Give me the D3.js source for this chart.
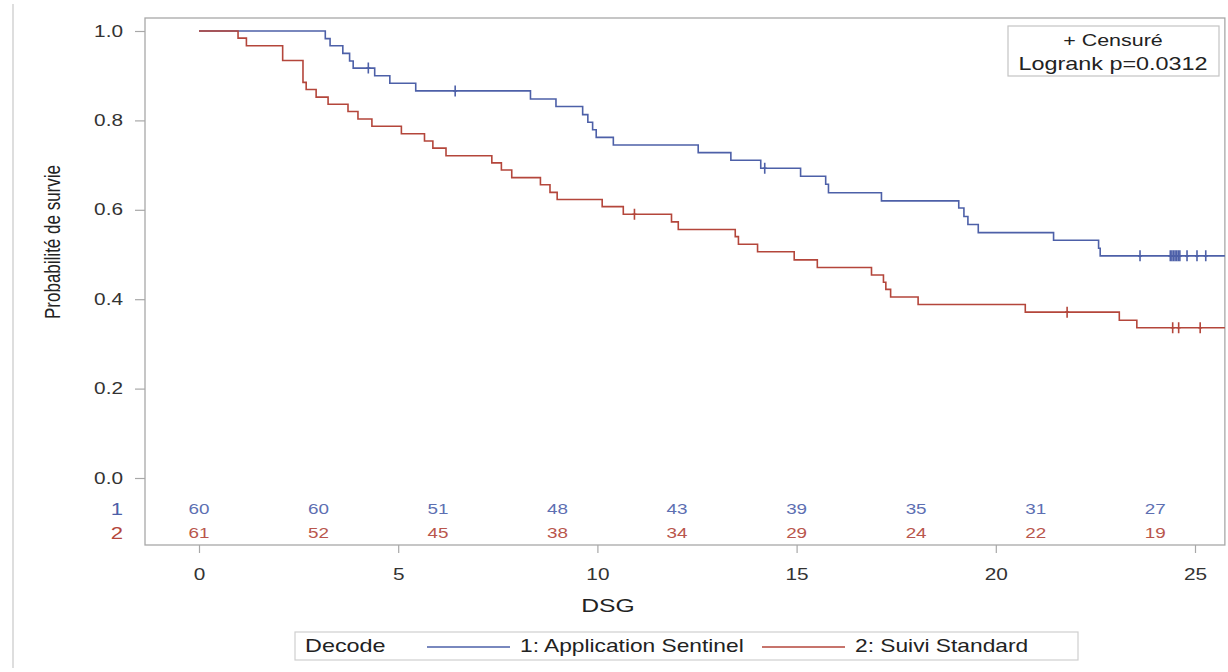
<!DOCTYPE html>
<meta charset="utf-8">
<script src="https://cdn.jsdelivr.net/npm/d3@7"></script>
<style>
	body { margin: 0; background: #fff; }
	svg { display: block; font-family: "Liberation Sans", Arial, sans-serif; }
	.frame { fill: none; stroke: #a8a8a8; stroke-width: 1.3px; }
	.axis line { stroke: #a8a8a8; stroke-width: 1.2px; }
	.axis path { display: none; }
	.axis text { fill: #333; font-size: 16px; }
	.km { fill: none; stroke-width: 1.6px; }
	.censor { fill: none; stroke-width: 1.6px; }
</style>
<body>
	<div id="chart"></div>
</body>
<script>
	const width = 1228, height = 672;
	const stretch = 1.3; // text in the reference is drawn wide

	// Kaplan-Meier steps [time, survival]
	const sentinelSteps = [
		[0, 1], [3.17, 0.983], [3.29, 0.967], [3.61, 0.950], [3.78, 0.933], [3.87, 0.917],
		[4.41, 0.900], [4.79, 0.883], [5.44, 0.866], [8.32, 0.848], [8.96, 0.831],
		[9.63, 0.813], [9.76, 0.796], [9.88, 0.779], [9.97, 0.762], [10.40, 0.745],
		[12.53, 0.728], [13.35, 0.711], [14.10, 0.693], [15.10, 0.675], [15.73, 0.657],
		[15.80, 0.638], [17.13, 0.620], [19.07, 0.604], [19.20, 0.585], [19.30, 0.567],
		[19.56, 0.549], [21.45, 0.532], [22.58, 0.514], [22.62, 0.497]
	];
	const sentinelCensored = [4.25, 6.43, 14.2, 23.62, 24.38, 24.42, 24.46, 24.50, 24.54, 24.58, 24.62,
		24.80, 25.05, 25.27];

	const standardSteps = [
		[0, 1], [0.98, 0.984], [1.19, 0.967], [2.10, 0.934], [2.61, 0.885], [2.69, 0.869],
		[2.94, 0.852], [3.24, 0.836], [3.74, 0.820], [3.99, 0.803], [4.34, 0.787],
		[5.08, 0.770], [5.66, 0.754], [5.87, 0.738], [6.20, 0.721], [7.35, 0.705],
		[7.59, 0.689], [7.85, 0.672], [8.57, 0.656], [8.81, 0.639], [8.99, 0.623],
		[10.12, 0.607], [10.65, 0.590], [11.86, 0.573], [12.03, 0.556], [13.46, 0.540],
		[13.54, 0.523], [14.02, 0.506], [14.94, 0.488], [15.52, 0.471], [16.88, 0.454],
		[17.18, 0.438], [17.24, 0.422], [17.36, 0.405], [18.05, 0.388], [20.74, 0.371],
		[23.10, 0.353], [23.54, 0.336]
	];
	const standardCensored = [10.93, 21.79, 24.44, 24.59, 25.13];

	// number at risk table
	const riskTimes = [0, 3, 6, 9, 12, 15, 18, 21, 24];
	const riskSentinel = [60, 60, 51, 48, 43, 39, 35, 31, 27];
	const riskStandard = [61, 52, 45, 38, 34, 29, 24, 22, 19];

	const xTicks = [0, 5, 10, 15, 20, 25];
	const yTicks = [0, 0.2, 0.4, 0.6, 0.8, 1.0];
	const tEnd = 25.75;

	const groups = [
		{ code: "1", label: "1: Application Sentinel", color: "#4d60a8", text: "#5d6fb2",
		  steps: sentinelSteps, censored: sentinelCensored, risk: riskSentinel },
		{ code: "2", label: "2: Suivi Standard", color: "#b4463b", text: "#b9564c",
		  steps: standardSteps, censored: standardCensored, risk: riskStandard }
	];

	const x = d3.scaleLinear().domain([0, 25]).range([199, 1195]);
	const y = d3.scaleLinear().domain([0, 1]).range([478, 31]);

	const svg = d3.select("#chart").append("svg")
		.attr("width", width)
		.attr("height", height);

	// outer border line on the left
	svg.append("line")
		.attr("x1", 13).attr("x2", 13).attr("y1", 4).attr("y2", 668)
		.attr("stroke", "#c8c8c8").attr("stroke-width", 1.2);

	const x0 = x.invert(145);
	svg.append("rect").attr("class", "frame")
		.attr("x", x(x0)).attr("y", 18)
		.attr("width", x(tEnd) - x(x0)).attr("height", 527);

	// axes
	const yAxis = svg.append("g").attr("class", "axis")
		.attr("transform", "translate(145,0)")
		.call(d3.axisLeft(y).tickValues(yTicks).tickSize(10).tickFormat(d3.format(".1f")));
	yAxis.selectAll("text")
		.attr("x", -22 / stretch)
		.attr("transform", "scale(" + stretch + ",1)");

	const xAxis = svg.append("g").attr("class", "axis")
		.attr("transform", "translate(0,545)")
		.call(d3.axisBottom(x).tickValues(xTicks).tickSize(8).tickPadding(16));
	xAxis.selectAll("text")
		.attr("x", 0)
		.attr("transform", "scale(" + stretch + ",1)");

	svg.append("text")
		.attr("transform", "translate(52,242) scale(" + stretch + ",1) rotate(-90)")
		.attr("text-anchor", "middle")
		.attr("dy", "0.35em")
		.style("font-size", "17px")
		.style("fill", "#222")
		.text("Probabilité de survie");

	svg.append("text")
		.attr("transform", "translate(608,605) scale(" + stretch + ",1)")
		.attr("text-anchor", "middle")
		.attr("dy", "0.35em")
		.style("font-size", "19px")
		.style("fill", "#222")
		.text("DSG");

	// curves
	const line = d3.line()
		.x(function(d) { return x(d[0]); })
		.y(function(d) { return y(d[1]); })
		.curve(d3.curveStepAfter);

	function survAt(steps, t) {
		let s = 1;
		steps.forEach(function(p) { if (p[0] <= t) s = p[1]; });
		return s;
	}

	groups.forEach(function(g) {
		const pts = g.steps.concat([[tEnd, g.steps[g.steps.length - 1][1]]]);
		svg.append("path").attr("class", "km")
			.attr("stroke", g.color)
			.attr("d", line(pts));

		svg.append("g").selectAll("path")
			.data(g.censored)
		  .enter().append("path")
			.attr("class", "censor")
			.attr("stroke", g.color)
			.attr("transform", function(t) { return "translate(" + x(t) + "," + y(survAt(g.steps, t)) + ")"; })
			.attr("d", "M0,-5.5V5.5M-2,0H2");
	});

	// number at risk
	const riskRows = [509, 533];
	groups.forEach(function(g, i) {
		svg.append("text")
			.attr("transform", "translate(117," + riskRows[i] + ") scale(" + stretch + ",1)")
			.attr("text-anchor", "middle")
			.attr("dy", "0.36em")
			.style("font-size", "17px")
			.style("fill", g.color)
			.text(g.code);

		svg.append("g").selectAll("text")
			.data(riskTimes)
		  .enter().append("text")
			.attr("transform", function(t) { return "translate(" + x(t) + "," + riskRows[i] + ") scale(" + stretch + ",1)"; })
			.attr("text-anchor", "middle")
			.attr("dy", "0.36em")
			.style("font-size", "14.5px")
			.style("fill", g.text)
			.text(function(t, j) { return g.risk[j]; });
	});

	// inset box
	const inset = svg.append("g");
	inset.append("rect")
		.attr("x", 1008).attr("y", 26).attr("width", 211).attr("height", 50)
		.attr("fill", "#fff").attr("stroke", "#c4c4c4").attr("stroke-width", 1.2);
	inset.append("text")
		.attr("transform", "translate(1113,40) scale(" + stretch + ",1)")
		.attr("text-anchor", "middle").attr("dy", "0.36em")
		.style("font-size", "16.5px").style("fill", "#222")
		.text("+ Censuré");
	inset.append("text")
		.attr("transform", "translate(1113,64) scale(" + stretch + ",1)")
		.attr("text-anchor", "middle").attr("dy", "0.36em")
		.style("font-size", "18px").style("fill", "#222")
		.text("Logrank p=0.0312");

	// legend
	const legend = svg.append("g");
	legend.append("rect")
		.attr("x", 295).attr("y", 632).attr("width", 783).attr("height", 28)
		.attr("fill", "#fff").attr("stroke", "#cfcfcf").attr("stroke-width", 1.2);
	legend.append("text")
		.attr("transform", "translate(305,646) scale(" + stretch + ",1)")
		.attr("dy", "0.36em")
		.style("font-size", "18px").style("fill", "#222")
		.text("Decode");
	const legendX = [427, 762];
	groups.forEach(function(g, i) {
		legend.append("line")
			.attr("x1", legendX[i]).attr("x2", legendX[i] + 83)
			.attr("y1", 647).attr("y2", 647)
			.attr("stroke", g.color).attr("stroke-width", 1.6);
		legend.append("text")
			.attr("transform", "translate(" + (legendX[i] + 93) + ",646) scale(" + stretch + ",1)")
			.attr("dy", "0.36em")
			.style("font-size", "17.5px").style("fill", "#222")
			.text(g.label);
	});
</script>
